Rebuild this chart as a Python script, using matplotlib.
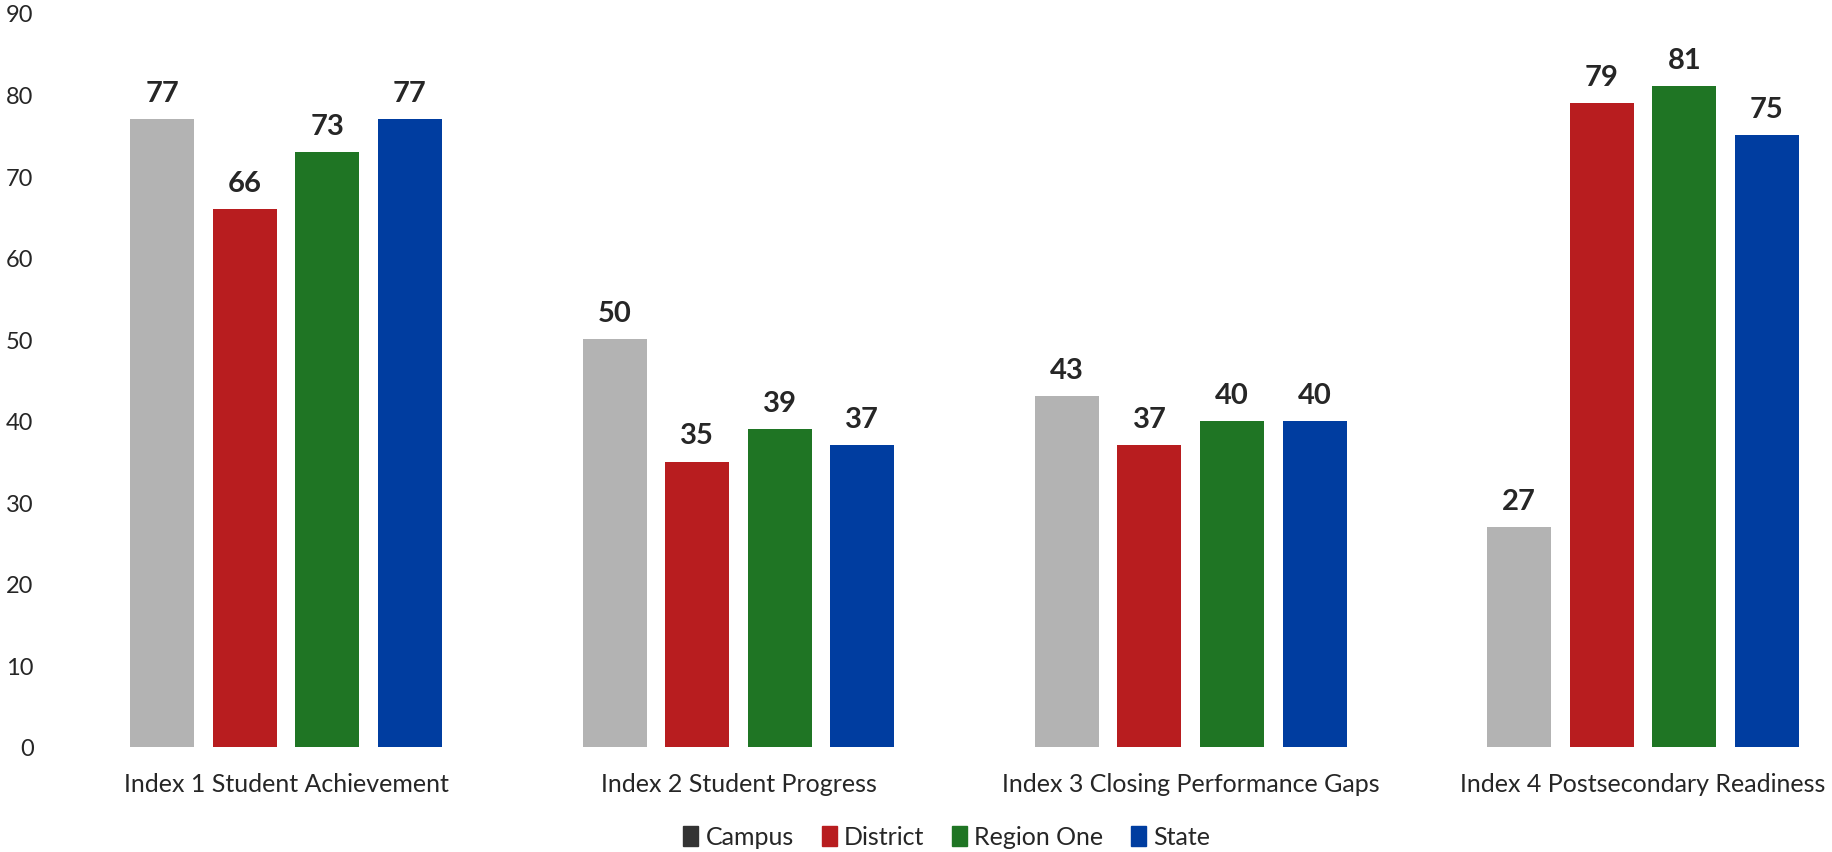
import numpy as np
import matplotlib
matplotlib.use("Agg")
import matplotlib.pyplot as plt
from matplotlib.patches import Patch

plt.rcParams['font.family'] = ['Lato', 'DejaVu Sans']

categories = ["Index 1 Student Achievement", "Index 2 Student Progress",
              "Index 3 Closing Performance Gaps", "Index 4 Postsecondary Readiness"]
series_names = ["Campus", "District", "Region One", "State"]
campus = [77, 50, 43, 27]
district = [66, 35, 37, 79]
region_one = [73, 39, 40, 81]
state = [77, 37, 40, 75]

colors = ['#b3b3b3', '#b81d1f', '#1f7524', '#003da0']
legend_colors = ['#333333', '#b81d1f', '#1f7524', '#003da0']
text_color = '#262626'

series = [campus, district, region_one, state]

fig = plt.figure(figsize=(18.33, 8.53), dpi=100)
ax = fig.add_axes([60 / 1833, 1 - 748 / 853, 1 - 60 / 1833, (748 - 14) / 853])

x = np.arange(len(categories))
step = 0.1825
width = 0.1416
for i, vals in enumerate(series):
    pos = x + (i - 1.5) * step
    ax.bar(pos, vals, width, color=colors[i])
    for p, v in zip(pos, vals):
        ax.annotate(f"{v}", (p, v), xytext=(0, 13), textcoords='offset points',
                    ha='center', va='baseline', fontsize=21, fontweight='bold',
                    color=text_color)

ax.set_xlim(-0.5, 3.42)
ax.set_ylim(0, 90)
ax.set_yticks(np.arange(0, 91, 10))
ax.set_xticks(x)
ax.set_xticklabels(categories)
ax.tick_params(axis='y', length=0, pad=19, labelsize=17, labelcolor=text_color)
ax.tick_params(axis='x', length=0, pad=18, labelsize=18, labelcolor=text_color)
for s in ax.spines.values():
    s.set_visible(False)

handles = [Patch(color=c) for c in legend_colors]
fig.legend(handles, series_names, loc='center', bbox_to_anchor=(947 / 1833, 1 - 838 / 853),
           ncol=4, frameon=False, fontsize=18, handlelength=0.6, handleheight=0.9,
           handletextpad=0.3, columnspacing=1.1, labelcolor=text_color)

fig.savefig("out.png", dpi=100)
